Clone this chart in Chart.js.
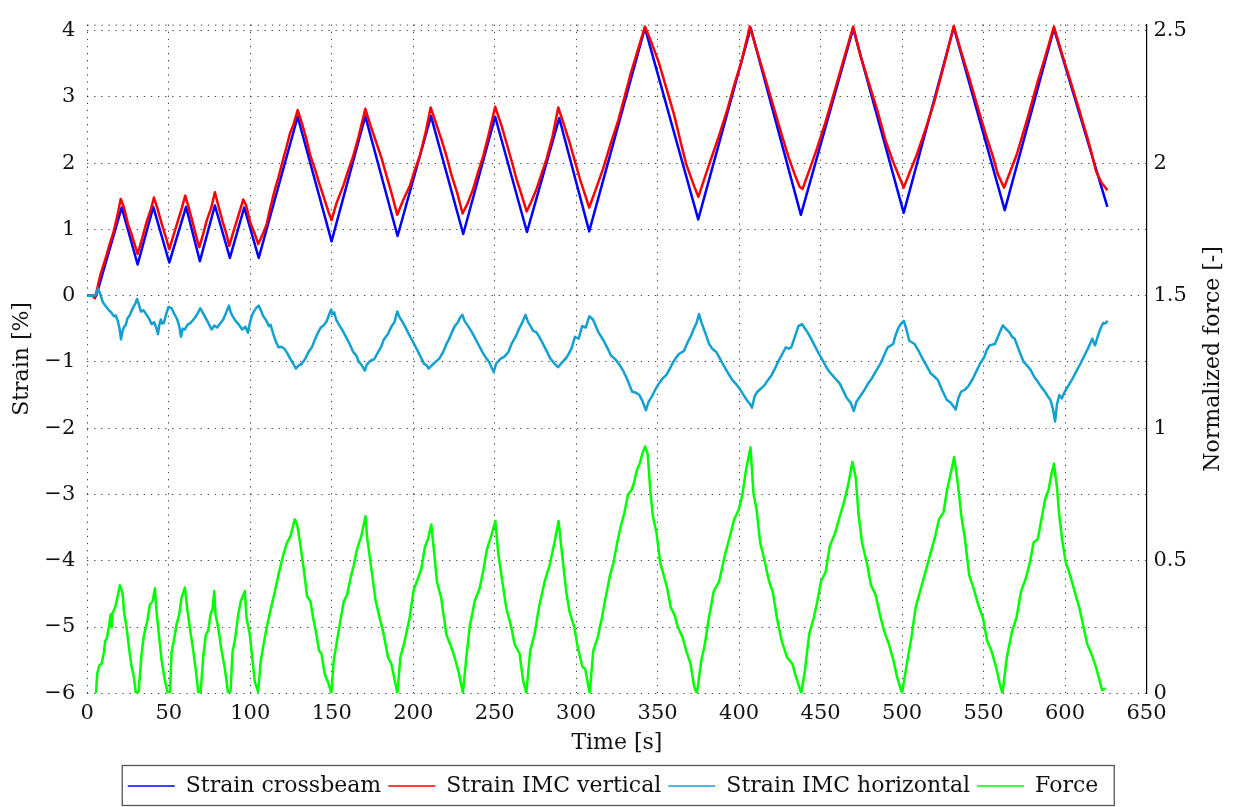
<!DOCTYPE html>
<html>
<head>
<meta charset="utf-8">
<title>Strain and force vs time</title>
<script src="https://cdn.jsdelivr.net/npm/chart.js@4.4.1/dist/chart.umd.min.js"></script>
<style>
  html, body { margin: 0; padding: 0; background: #fff; }
  #wrap { position: relative; width: 1237px; height: 807px; }
</style>
</head>
<body>
<div id="wrap"><canvas id="strainChart"></canvas></div>
<script>
// ---------------------------------------------
// Measured series (time in s, strain in %, force normalized)
// ---------------------------------------------
const crossbeamTime = [0, 5.5, 21.1, 30.9, 40.5, 50.3, 60.6, 69.1, 78.3, 87.5, 96.3, 105.2, 129.1, 149.9, 170.6, 190.4,
  210.9, 230.7, 250.3, 269.8, 289.6, 308.0, 342.2, 374.9, 407.1, 437.9, 470.0, 501.0, 531.7, 563.0, 593.2, 626.0];
const crossbeamStrain = [0, 0, 1.33, 0.47, 1.34, 0.50, 1.34, 0.52, 1.36, 0.57, 1.33, 0.57, 2.70, 0.82, 2.71, 0.90,
  2.71, 0.93, 2.70, 0.96, 2.68, 0.97, 4.04, 1.15, 4.04, 1.22, 4.03, 1.25, 4.05, 1.29, 4.03, 1.34];

const verticalTime = [0, 3.0, 4.7, 6.5, 8.2, 10.0, 11.9, 14.0, 16.0, 18.4, 20.5, 22.5, 25.0, 27.5, 30.9, 33.5, 36.5, 39.0,
  40.9, 43.0, 45.5, 48.0, 50.3, 52.5, 55.0, 58.0, 60.1, 62.0, 64.5, 67.0, 68.7, 71.0, 73.5, 76.0, 78.3, 80.5, 83.0, 85.5,
  87.1, 89.5, 92.0, 95.7, 97.5, 100.0, 102.5, 104.9, 107.5, 110.0, 112.5, 115.2, 117.5, 120.2, 122.0, 124.4, 126.5, 129.1,
  131.5, 134.6, 137.0, 139.7, 142.0, 144.8, 147.9, 149.9, 153.0, 157.1, 160.0, 163.2, 166.5, 170.6, 174.0, 177.5, 180.5,
  183.6, 187.0, 190.2, 194.0, 198.0, 201.0, 204.1, 207.5, 210.7, 214.0, 217.4, 220.5, 223.6, 227.0, 230.3, 233.5, 236.8,
  240.0, 243.0, 246.5, 250.3, 254.0, 257.3, 260.5, 263.4, 266.5, 269.6, 272.5, 275.7, 278.5, 281.8, 285.5, 289.0, 292.5,
  296.1, 299.0, 302.3, 305.5, 308.0, 312.0, 316.6, 321.0, 325.8, 329.5, 333.7, 338.0, 342.2, 346.5, 350.7, 355.5, 360.2,
  364.0, 367.6, 371.8, 375.0, 378.5, 382.3, 387.5, 392.9, 397.0, 401.3, 406.6, 411.5, 416.1, 421.5, 426.7, 430.5, 434.1,
  437.2, 438.9, 443.5, 447.9, 453.0, 458.4, 464.0, 470.0, 474.5, 479.5, 485.0, 490.0, 494.5, 498.5, 501.0, 505.0, 509.1,
  514.5, 519.7, 527.1, 531.7, 536.0, 540.8, 546.0, 551.4, 555.5, 558.8, 562.6, 566.5, 570.4, 577.0, 583.1, 588.0, 593.2,
  598.5, 604.2, 608.5, 612.6, 616.0, 619.0, 622.5, 624.5, 626.0];
const verticalStrain = [0, 0, -0.04, 0.15, 0.33, 0.47, 0.62, 0.80, 0.95, 1.20, 1.46, 1.33, 1.08, 0.90, 0.63, 0.85, 1.12, 1.30,
  1.48, 1.32, 1.10, 0.90, 0.70, 0.88, 1.08, 1.32, 1.51, 1.35, 1.12, 0.88, 0.73, 0.92, 1.15, 1.32, 1.56, 1.35, 1.12, 0.92,
  0.75, 0.95, 1.15, 1.45, 1.36, 1.10, 0.95, 0.78, 0.92, 1.07, 1.35, 1.61, 1.80, 2.06, 2.22, 2.45, 2.58, 2.80,
  2.62, 2.35, 2.10, 1.91, 1.72, 1.51, 1.27, 1.14, 1.40, 1.66, 1.88, 2.11, 2.40, 2.82, 2.55, 2.30, 2.08,
  1.81, 1.52, 1.22, 1.45, 1.66, 1.90, 2.11, 2.45, 2.84, 2.60, 2.35, 2.10, 1.81, 1.55, 1.24, 1.40, 1.61,
  1.88, 2.11, 2.45, 2.85, 2.58, 2.30, 2.02, 1.76, 1.52, 1.27, 1.42, 1.61, 1.82, 2.06, 2.40, 2.84, 2.58,
  2.30, 2.05, 1.76, 1.52, 1.33, 1.60, 1.92, 2.28, 2.64, 2.98, 3.37, 3.72, 4.06, 3.80, 3.52, 3.12, 2.72,
  2.33, 1.98, 1.69, 1.49, 1.75, 2.03, 2.40, 2.82, 3.18, 3.52, 4.06, 3.65, 3.27, 2.82, 2.38, 2.08, 1.83,
  1.64, 1.61, 1.92, 2.23, 2.62, 3.07, 3.55, 4.06, 3.62, 3.22, 2.78, 2.33, 2.02, 1.78, 1.63, 1.88, 2.13,
  2.52, 2.92, 3.61, 4.07, 3.70, 3.32, 2.88, 2.43, 2.12, 1.83, 1.63, 1.88, 2.13, 2.68, 3.22, 3.62, 4.06,
  3.62, 3.17, 2.82, 2.48, 2.18, 1.88, 1.70, 1.64, 1.59];

const horizontalTime = [0, 4, 5.5, 6.6, 8, 9.4, 11, 12.9, 14.5, 16.4, 17.5, 18.8, 19.8, 20.7, 21.5, 22.3, 23.5, 24.7, 26, 27,
  28.5, 29.5, 30.5, 31.5, 32.9, 34.5, 36.4, 38, 39.5, 41, 42.3, 43.4, 44.2, 45.1, 46, 47, 48.5, 49.8, 51.7, 53.5, 55.2,
  56.5, 57.5, 58.5, 59.9, 61.5, 63.4, 65.8, 67.5, 69.3, 70.5, 71.6, 74, 76.3, 78, 79.8, 81.5, 83.4, 85, 86.9, 88, 89.2,
  91, 92.8, 95.1, 97, 98.6, 99.8, 101, 102.2, 103.8, 105.2, 106.5, 108, 109.5, 111.5, 112.5, 113.9, 115.5, 117.4, 119,
  120.9, 122.5, 124.5, 126.2, 128, 129.5, 131.5, 133.8, 136.2, 137.8, 139.7, 141.5, 143.3, 145, 146.8, 148.2, 149.6,
  150.5, 151.5, 152.7, 155, 156.5, 158.5, 161, 163.2, 165, 166.7, 168.5, 170.3, 171.5, 173.8, 176, 178.5, 180.5, 182,
  184.5, 186.7, 188.5, 190.2, 191.5, 193.8, 195.5, 197.3, 199.5, 202, 204.5, 206.7, 208.2, 209.5, 211.5, 213.7, 216,
  218.4, 220.2, 221.9, 223.8, 225.5, 227.5, 228.8, 230.2, 231.5, 233.7, 236, 238.4, 240.5, 243.1, 245, 246.6, 248,
  249.4, 251, 253.7, 256, 258.4, 260.5, 263, 265, 267, 268.9, 270.5, 272, 273.6, 275.5, 277.1, 279.5, 282, 284.2,
  286.5, 288.9, 290.5, 292.4, 294.5, 297.1, 299.3, 301.5, 303.7, 305.9, 308.1, 310.3, 313.6, 316.9, 319, 321.3, 324,
  326.8, 329, 331.1, 334.4, 336.5, 338.8, 340.5, 342.8, 344.5, 346.5, 348.5, 350.9, 353, 355.3, 357.5, 359.6, 361.5,
  363, 364.5, 366.2, 368.5, 370.6, 372.2, 373.9, 375.4, 376.8, 378.3, 379.8, 381.6, 383.5, 386, 388, 390.4, 393, 395.8,
  398, 400.2, 402.5, 404.6, 406.5, 407.9, 409.5, 411.2, 413.5, 415.6, 417.5, 419.9, 422, 424.3, 426.5, 428.7, 430.5,
  432, 434.5, 436.4, 438.6, 440, 441.9, 444, 446.3, 449, 451.8, 454, 456.1, 459, 461.6, 464, 466, 468.5, 470.4, 472,
  473.7, 477, 479, 481.4, 484, 486.8, 489, 491.2, 494.5, 496, 497.8, 499.5, 501.1, 502.8, 504.4, 507.7, 510.5, 513.2,
  515.5, 517.5, 519.8, 521.9, 524.5, 527.4, 530, 532.9, 534.5, 536.2, 538.5, 540.6, 543.5, 546, 548, 550.4, 552, 553.7,
  557, 559.5, 561.8, 563.8, 565.8, 567.5, 569.1, 572, 574.6, 576.5, 578.9, 581, 583.3, 585.5, 587.7, 589.5, 591, 592.5,
  593.9, 595, 596.5, 598, 599.8, 602, 604.2, 607, 609.6, 612, 614, 615.5, 616.7, 618.4, 620, 621.7, 623.5, 624.8, 626.1];
const horizontalStrain = [0, 0, 0.02, 0.11, 0.02, -0.09, -0.15, -0.21, -0.25, -0.31, -0.30, -0.39, -0.50, -0.66, -0.55,
  -0.48, -0.45, -0.34, -0.30, -0.24, -0.16, -0.12, -0.05, -0.12, -0.24, -0.22, -0.29, -0.35, -0.43, -0.40, -0.48, -0.58,
  -0.44, -0.36, -0.42, -0.41, -0.27, -0.17, -0.19, -0.28, -0.36, -0.47, -0.62, -0.50, -0.51, -0.44, -0.41, -0.34, -0.28,
  -0.19, -0.24, -0.29, -0.40, -0.51, -0.45, -0.48, -0.42, -0.36, -0.27, -0.15, -0.25, -0.31, -0.38, -0.43, -0.51, -0.47,
  -0.56, -0.41, -0.30, -0.24, -0.18, -0.15, -0.22, -0.31, -0.36, -0.46, -0.44, -0.56, -0.68, -0.78, -0.77, -0.80, -0.86,
  -0.95, -1.02, -1.10, -1.06, -1.03, -0.95, -0.83, -0.78, -0.66, -0.56, -0.48, -0.45, -0.39, -0.30, -0.21, -0.28, -0.25,
  -0.36, -0.46, -0.52, -0.61, -0.73, -0.85, -0.90, -1.00, -1.05, -1.13, -1.04, -0.98, -0.96, -0.85, -0.76, -0.66, -0.58,
  -0.46, -0.40, -0.24, -0.32, -0.41, -0.49, -0.58, -0.68, -0.80, -0.92, -1.03, -1.05, -1.10, -1.05, -1.00, -0.95, -0.85,
  -0.74, -0.66, -0.55, -0.46, -0.40, -0.33, -0.29, -0.38, -0.46, -0.55, -0.66, -0.76, -0.88, -0.95, -1.00, -1.08, -1.15,
  -1.02, -0.95, -0.92, -0.85, -0.72, -0.61, -0.50, -0.40, -0.29, -0.40, -0.46, -0.53, -0.55, -0.61, -0.72, -0.84, -0.95,
  -1.02, -1.08, -1.03, -0.98, -0.92, -0.80, -0.62, -0.65, -0.46, -0.48, -0.31, -0.36, -0.55, -0.68, -0.78, -0.90, -0.96,
  -1.05, -1.14, -1.25, -1.45, -1.46, -1.50, -1.58, -1.73, -1.60, -1.52, -1.42, -1.32, -1.25, -1.20, -1.10, -1.00, -0.93,
  -0.88, -0.86, -0.83, -0.70, -0.60, -0.50, -0.41, -0.28, -0.40, -0.50, -0.60, -0.73, -0.80, -0.85, -0.94, -1.05, -1.16,
  -1.27, -1.33, -1.40, -1.49, -1.57, -1.63, -1.69, -1.52, -1.45, -1.40, -1.35, -1.28, -1.20, -1.10, -0.98, -0.88, -0.78,
  -0.80, -0.78, -0.60, -0.46, -0.43, -0.48, -0.55, -0.64, -0.75, -0.88, -1.00, -1.10, -1.17, -1.25, -1.32, -1.44, -1.54,
  -1.62, -1.74, -1.60, -1.54, -1.42, -1.33, -1.25, -1.14, -1.02, -0.90, -0.78, -0.73, -0.60, -0.48, -0.42, -0.38, -0.52,
  -0.68, -0.73, -0.85, -0.98, -1.08, -1.17, -1.22, -1.27, -1.42, -1.57, -1.62, -1.72, -1.55, -1.45, -1.42, -1.37, -1.25,
  -1.12, -1.02, -0.93, -0.82, -0.75, -0.73, -0.58, -0.45, -0.50, -0.55, -0.62, -0.65, -0.84, -1.00, -1.05, -1.12, -1.22,
  -1.30, -1.38, -1.45, -1.52, -1.57, -1.70, -1.90, -1.65, -1.50, -1.55, -1.45, -1.36, -1.27, -1.14, -1.02, -0.90, -0.80,
  -0.72, -0.65, -0.75, -0.62, -0.50, -0.41, -0.42, -0.38];

const forceTime = [5.3, 6.1, 7.4, 8.8, 10.2, 11, 11.9, 13.5, 14.3, 14.9, 15.5, 17, 18.4, 20, 21.7, 22.5, 24.1, 25.8, 27.2,
  28.6, 29.8, 31.5, 33.3, 34.7, 35.6, 36.8, 38.4, 40.1, 41.5, 42.5, 43.9, 45.6, 47.6, 49.3, 50.7, 51.7, 53.1, 54.8, 56.4,
  57.8, 59.9, 61.3, 62.9, 65, 66.6, 68.1, 69.5, 71.1, 72.8, 74.2, 75.6, 76.8, 77.9, 78.7, 80.3, 82.4, 84.4, 86.4, 87.9,
  89.1, 90.5, 92.6, 94.2, 96.7, 97.7, 99.7, 101.4, 102.8, 104.8, 106.5, 108.9, 110.9, 113, 115.1, 117.7, 120.2, 122.2,
  124.7, 127.3, 128.8, 130.4, 132.8, 134.9, 136.9, 138.6, 140.6, 142.2, 143.7, 145.7, 147.8, 149.8, 151.2, 152.9, 154.9,
  157.4, 159.4, 161.5, 163.5, 165.6, 168.2, 170.7, 171.7, 174.3, 177, 179.4, 181.9, 184.5, 186.6, 188.6, 190.3, 192.1,
  194.8, 197.8, 200.3, 202.9, 205, 207.1, 209.1, 211.1, 212.6, 214.6, 217.2, 220.3, 223.4, 225.4, 228.1, 230.5, 232.6,
  234.6, 237.7, 240.8, 243.2, 245.3, 247.9, 250.4, 252.1, 254.7, 257.1, 260.2, 262.2, 265.3, 267.4, 269.4, 271.8, 274.5,
  277.1, 280.6, 283.7, 286.7, 289.2, 290.8, 293.9, 295.9, 298.9, 301, 303.9, 305.5, 308.3, 310.5, 313.2, 315.8, 318,
  320.8, 323, 325.2, 327.4, 329.6, 331.8, 334, 335.1, 337.3, 339, 340.6, 342.3, 343.9, 345.6, 347.1, 349.3, 351.5, 353.7,
  355.9, 358.1, 360.3, 362.5, 365.4, 367.5, 370.2, 372.4, 374.1, 376.8, 379, 381.1, 384.4, 387.7, 391, 393.9, 397, 399.8,
  402, 404.2, 407, 408.8, 410.7, 412.9, 415.8, 418.4, 420.6, 423.2, 426.1, 429.4, 432.7, 434.9, 438.2, 440.4, 443, 445.8,
  448, 450.2, 453.1, 455.7, 459, 461.8, 464.5, 467.1, 469.5, 471.5, 473.2, 475.4, 478.7, 480.9, 483.8, 486.4, 489, 491.9,
  494.7, 496.9, 500, 502.9, 505.7, 508.3, 511, 513.8, 517.1, 520.4, 522.6, 525.4, 527.6, 530.3, 532, 534.2, 536.4, 538.6,
  541.2, 543.9, 546.7, 549.6, 552.2, 554.8, 557.7, 559.9, 561.6, 564.3, 567.5, 570.2, 573, 575.9, 578.5, 580.7, 583.3,
  585.5, 587.7, 589.9, 591.7, 593.2, 595, 596.5, 598.2, 600.4, 603.1, 605.9, 608.8, 611.4, 613.6, 616.2, 618.4, 620.6,
  622.8, 625];
const forceNorm = [0, 0.074, 0.105, 0.111, 0.155, 0.198, 0.204, 0.26, 0.297, 0.248, 0.303, 0.322, 0.359, 0.408, 0.377,
  0.309, 0.248, 0.161, 0.099, 0.062, 0, 0.006, 0.149, 0.217, 0.241, 0.272, 0.334, 0.347, 0.396, 0.309, 0.223, 0.124,
  0.05, 0, 0, 0.155, 0.198, 0.26, 0.297, 0.359, 0.399, 0.322, 0.248, 0.161, 0.087, 0.002, 0, 0.136, 0.223, 0.235, 0.297,
  0.316, 0.386, 0.297, 0.248, 0.161, 0.093, 0.002, 0.006, 0.155, 0.198, 0.297, 0.347, 0.386, 0.285, 0.223, 0.124, 0.043,
  0.006, 0.124, 0.21, 0.272, 0.328, 0.384, 0.458, 0.52, 0.563, 0.594, 0.656, 0.637, 0.575, 0.47, 0.365, 0.347, 0.285,
  0.223, 0.161, 0.149, 0.074, 0.04, 0.002, 0.124, 0.186, 0.26, 0.347, 0.371, 0.433, 0.483, 0.545, 0.594, 0.668, 0.588,
  0.47, 0.347, 0.285, 0.223, 0.136, 0.111, 0.05, 0, 0.136, 0.198, 0.285, 0.39, 0.433, 0.47, 0.551, 0.582, 0.637, 0.545,
  0.421, 0.359, 0.223, 0.173, 0.136, 0.074, 0.002, 0.136, 0.248, 0.347, 0.396, 0.47, 0.545, 0.594, 0.65, 0.532, 0.421,
  0.322, 0.248, 0.186, 0.149, 0.05, 0, 0.161, 0.223, 0.322, 0.421, 0.483, 0.569, 0.65, 0.557, 0.384, 0.309, 0.248, 0.173,
  0.099, 0.093, 0, 0.161, 0.21, 0.285, 0.359, 0.446, 0.495, 0.569, 0.631, 0.681, 0.749, 0.767, 0.786, 0.842, 0.866,
  0.903, 0.931, 0.903, 0.755, 0.668, 0.606, 0.495, 0.446, 0.396, 0.322, 0.297, 0.248, 0.21, 0.161, 0.111, 0.025, 0,
  0.124, 0.186, 0.272, 0.384, 0.421, 0.514, 0.582, 0.656, 0.693, 0.749, 0.842, 0.928, 0.755, 0.693, 0.569, 0.495, 0.421,
  0.384, 0.285, 0.198, 0.136, 0.111, 0.062, 0, 0.087, 0.223, 0.285, 0.347, 0.421, 0.458, 0.557, 0.606, 0.668, 0.724,
  0.792, 0.873, 0.817, 0.681, 0.569, 0.483, 0.408, 0.371, 0.297, 0.235, 0.186, 0.124, 0.062, 0, 0.111, 0.21, 0.322,
  0.384, 0.446, 0.52, 0.594, 0.656, 0.681, 0.767, 0.842, 0.891, 0.792, 0.668, 0.582, 0.446, 0.396, 0.334, 0.285, 0.198,
  0.161, 0.099, 0.037, 0, 0.136, 0.235, 0.285, 0.384, 0.433, 0.495, 0.569, 0.582, 0.656, 0.73, 0.767, 0.829, 0.866,
  0.78, 0.668, 0.582, 0.495, 0.446, 0.384, 0.322, 0.248, 0.186, 0.149, 0.111, 0.062, 0.012, 0.019];

const seriesLabels = ['Strain crossbeam', 'Strain IMC vertical', 'Strain IMC horizontal', 'Force'];
const seriesColors = ['#0000ff', '#ff0000', '#12a0d2', '#00ff00'];

const timeTicks = { min: 0, max: 650, step: 50 };
const strainTicks = { min: -6, max: 4.09, step: 1 };
const forceTicks = { min: 0, max: 2.5225, step: 0.5 };

const X_TITLE = 'Time [s]';
const Y_TITLE = 'Strain [%]';
const Y2_TITLE = 'Normalized force [-]';

const FONT = '"DejaVu Serif", "Liberation Serif", serif';
const INK = '#111';
const DOTS = [1.3, 5.8];
const DOT_COLOR = 'rgba(0,0,0,0.75)';

// ---------------------------------------------
// helpers
// ---------------------------------------------
const toPoints = (xs, ys) => xs.map((x, i) => ({ x, y: ys[i] }));
const signed = v => (v < 0 ? '\u2212' + Math.abs(v) : String(v));

function lineSet(i, xs, ys, axis, order) {
  return {
    label: seriesLabels[i],
    data: toPoints(xs, ys),
    yAxisID: axis,
    borderColor: seriesColors[i],
    backgroundColor: seriesColors[i],
    borderWidth: 2.5,
    borderJoinStyle: 'round',
    pointRadius: 0,
    tension: 0,
    fill: false,
    order
  };
}

// dotted top edge of the plot box, right title (reads bottom to top), frame round the legend
const frameExtras = {
  id: 'frameExtras',
  afterLayout(chart) {
    // nudge the legend row a little to the left
    chart.legend.left -= 5.5;
    chart.legend.right -= 5.5;
  },
  beforeDatasetsDraw(chart) {
    const { ctx, chartArea: a } = chart;
    ctx.save();
    ctx.strokeStyle = DOT_COLOR;
    ctx.lineWidth = 1;
    ctx.setLineDash(DOTS);
    ctx.beginPath();
    ctx.moveTo(a.left, a.top + 0.5);
    ctx.lineTo(a.right, a.top + 0.5);
    ctx.stroke();
    ctx.restore();
  },
  afterDraw(chart) {
    const { ctx, chartArea: a } = chart;
    ctx.save();
    ctx.font = '22px ' + FONT;
    ctx.fillStyle = INK;
    ctx.textAlign = 'center';
    ctx.textBaseline = 'middle';
    ctx.translate(chart.scales.y2.right - 24, (a.top + a.bottom) / 2);
    ctx.rotate(-Math.PI / 2);
    ctx.fillText(Y2_TITLE, 0, 0);
    ctx.restore();

    const lg = chart.legend;
    const boxes = lg.legendHitBoxes;
    if (!boxes || !boxes.length) return;
    const first = boxes[0];
    const last = boxes[boxes.length - 1];
    ctx.save();
    ctx.strokeStyle = '#555';
    ctx.lineWidth = 1.3;
    ctx.strokeRect(first.left - 5.5, lg.top - 2.5, last.left + last.width - first.left + 21.5, lg.height + 1);
    ctx.restore();
  }
};

Chart.defaults.font.family = FONT;
Chart.defaults.font.size = 21;
Chart.defaults.color = INK;

new Chart(document.getElementById('strainChart'), {
  type: 'line',
  data: {
    datasets: [
      lineSet(0, crossbeamTime, crossbeamStrain, 'y', 4),
      lineSet(1, verticalTime, verticalStrain, 'y', 3),
      lineSet(2, horizontalTime, horizontalStrain, 'y', 2),
      lineSet(3, forceTime, forceNorm, 'y2', 1)
    ]
  },
  options: {
    responsive: true,
    maintainAspectRatio: false,
    animation: false,
    devicePixelRatio: 1,
    layout: { padding: { top: 13, left: 0, right: 0, bottom: 0 } },
    plugins: {
      tooltip: { enabled: false },
      legend: {
        position: 'bottom',
        labels: {
          font: { size: 22 },
          color: INK,
          usePointStyle: true,
          pointStyle: 'line',
          pointStyleWidth: 47,
          padding: 7,
          sort: (a, b) => a.datasetIndex - b.datasetIndex,
          generateLabels: chart =>
            Chart.defaults.plugins.legend.labels.generateLabels(chart).map(l => ({ ...l, lineWidth: 1.4 }))
        }
      }
    },
    scales: {
      x: {
        type: 'linear',
        min: timeTicks.min,
        max: timeTicks.max,
        ticks: { stepSize: timeTicks.step, padding: 8, maxRotation: 0, autoSkip: false, includeBounds: false,
          callback: v => String(v) },
        grid: { color: DOT_COLOR, lineWidth: 1, drawTicks: false },
        border: { display: false, dash: DOTS },
        title: { display: true, text: X_TITLE, font: { size: 22 }, padding: { top: 0, bottom: 11.5 } },
        afterFit: s => { s.height = 74.7; }
      },
      y: {
        position: 'left',
        min: strainTicks.min,
        max: strainTicks.max,
        ticks: { stepSize: strainTicks.step, padding: 12, includeBounds: false, callback: v => signed(v) },
        grid: { color: DOT_COLOR, lineWidth: 1, drawTicks: false },
        border: { display: false, dash: DOTS },
        title: { display: true, text: Y_TITLE, font: { size: 22 }, padding: { top: 9, bottom: 0 } },
        afterFit: s => { s.width = 87.3; }
      },
      y2: {
        position: 'right',
        min: forceTicks.min,
        max: forceTicks.max,
        ticks: { stepSize: forceTicks.step, padding: 7, includeBounds: false, callback: v => String(v) },
        grid: { drawOnChartArea: false, drawTicks: false },
        border: { display: true, color: '#000', width: 1.2 },
        afterFit: s => { s.width = 90.5; }
      }
    }
  },
  plugins: [frameExtras]
});
</script>
</body>
</html>
